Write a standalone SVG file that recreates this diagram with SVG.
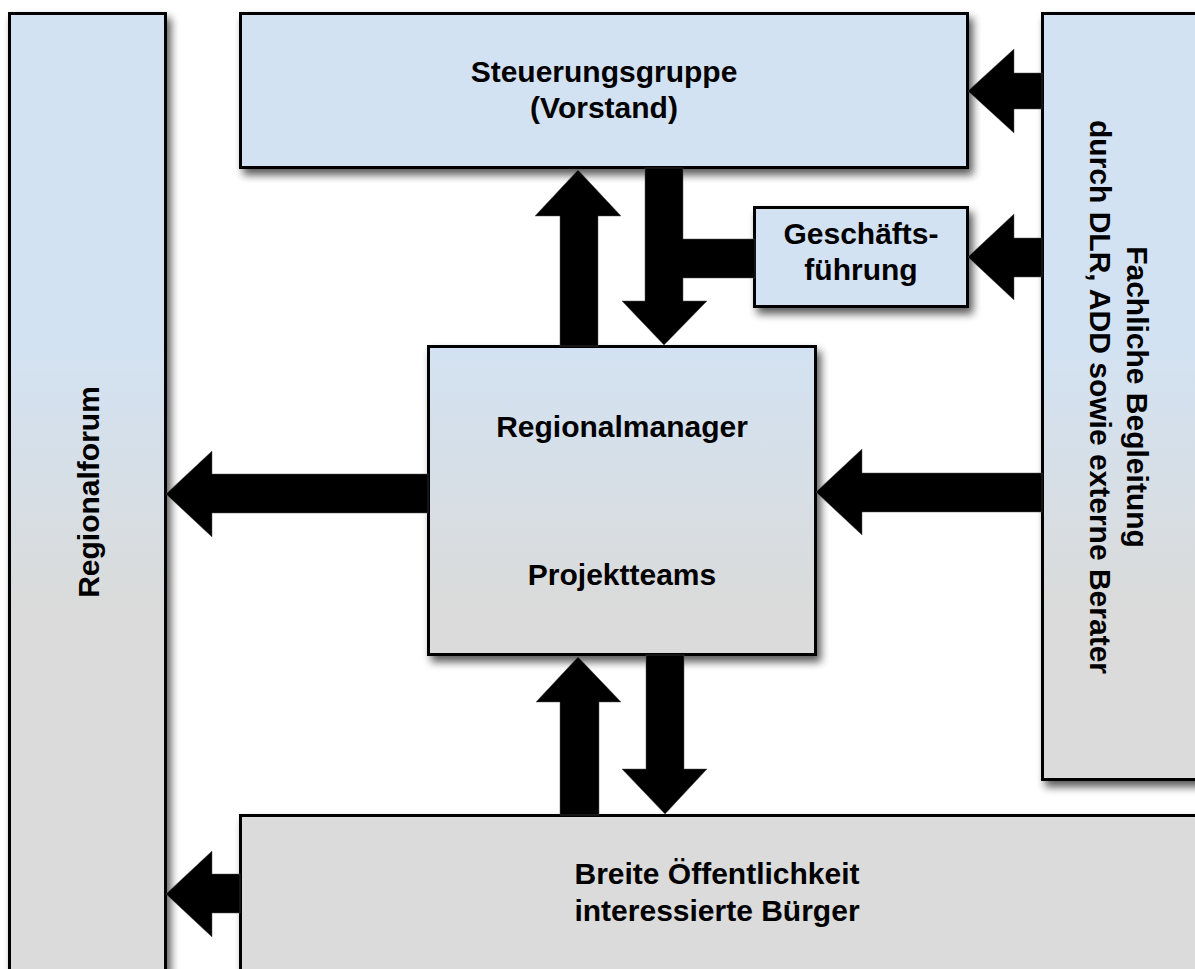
<svg xmlns="http://www.w3.org/2000/svg" width="1195" height="969" viewBox="0 0 1195 969">
  <defs>
    <!-- one shared vertical fill: light blue at the top of the page fading to light grey below -->
    <linearGradient id="pageFill" gradientUnits="userSpaceOnUse" x1="0" y1="350" x2="0" y2="610">
      <stop offset="0" stop-color="#d3e2f2"/>
      <stop offset="1" stop-color="#dadbda"/>
    </linearGradient>
    <filter id="shadow" x="-10%" y="-10%" width="130%" height="130%">
      <feGaussianBlur in="SourceAlpha" stdDeviation="4"/>
      <feOffset dx="4" dy="6" result="blur"/>
      <feComponentTransfer><feFuncA type="linear" slope="0.65"/></feComponentTransfer>
      <feMerge><feMergeNode/><feMergeNode in="SourceGraphic"/></feMerge>
    </filter>
    <style>
      .box { fill: url(#pageFill); stroke: #000; stroke-width: 3; filter: url(#shadow); }
      .lbl { font-family: "Liberation Sans", Arial, sans-serif; font-weight: bold; font-size: 30px; fill: #000; text-anchor: middle; }
      .arrow { fill: #000; stroke: #555; stroke-width: 0.5; }
    </style>
  </defs>
  <rect width="1195" height="969" fill="#fff"/>

  <g id="regionalforum">
    <rect class="box" x="9.5" y="13.5" width="156" height="970"/>
    <text class="lbl" transform="translate(99,492) rotate(-90)">Regionalforum</text>
  </g>

  <g id="steuerungsgruppe">
    <rect class="box" x="240.5" y="13.5" width="727" height="154"/>
    <text class="lbl" x="604" y="82">Steuerungsgruppe</text>
    <text class="lbl" x="604" y="118">(Vorstand)</text>
  </g>

  <g id="geschaeftsfuehrung">
    <rect class="box" x="754.5" y="207.5" width="213" height="99"/>
    <text class="lbl" x="861" y="244">Geschäfts-</text>
    <text class="lbl" x="861" y="280">führung</text>
  </g>

  <g id="fachliche-begleitung">
    <rect class="box" x="1042.5" y="13.5" width="170" height="766"/>
    <g transform="translate(1127,397) rotate(90)">
      <text class="lbl" x="0" y="0">Fachliche Begleitung</text>
      <text class="lbl" x="0" y="37">durch DLR, ADD sowie externe Berater</text>
    </g>
  </g>

  <g id="regionalmanager">
    <rect class="box" x="428.5" y="346.5" width="387" height="308"/>
    <text class="lbl" x="622" y="437">Regionalmanager</text>
    <text class="lbl" x="622" y="585">Projektteams</text>
  </g>

  <g id="oeffentlichkeit">
    <rect class="box" x="240.5" y="815.5" width="980" height="180"/>
    <text class="lbl" x="717" y="884">Breite Öffentlichkeit</text>
    <text class="lbl" x="717" y="921">interessierte Bürger</text>
  </g>

  <g id="connectors">
    <!-- Regionalmanager <-> Steuerungsgruppe -->
    <polygon class="arrow" points="560,346 560,216 535,216 578,170 621,216 598,216 598,346"/>
    <polygon class="arrow" points="645,168 683,168 683,239 755,239 755,278 683,278 683,301 707,301 664,345 622,301 645,301"/>
    <!-- Fachliche Begleitung -> Steuerungsgruppe / Geschäftsführung / Regionalmanager -->
    <polygon class="arrow" points="1042,73 1014,73 1014,49 968,91 1014,133 1014,109 1042,109"/>
    <polygon class="arrow" points="1042,238 1014,238 1014,214 968,257 1014,300 1014,277 1042,277"/>
    <polygon class="arrow" points="1042,473 862,473 862,449 816,492 862,535 862,512 1042,512"/>
    <!-- Regionalmanager -> Regionalforum -->
    <polygon class="arrow" points="428,474 212,474 212,451 166,494 212,537 212,513 428,513"/>
    <!-- Öffentlichkeit <-> Regionalmanager -->
    <polygon class="arrow" points="560,815 560,702 536,702 578,657 621,702 599,702 599,815"/>
    <polygon class="arrow" points="646,655 684,655 684,769 707,769 665,814 622,769 646,769"/>
    <!-- Öffentlichkeit -> Regionalforum -->
    <polygon class="arrow" points="240,874 212,874 212,851 166,894 212,937 212,913 240,913"/>
  </g>
</svg>
